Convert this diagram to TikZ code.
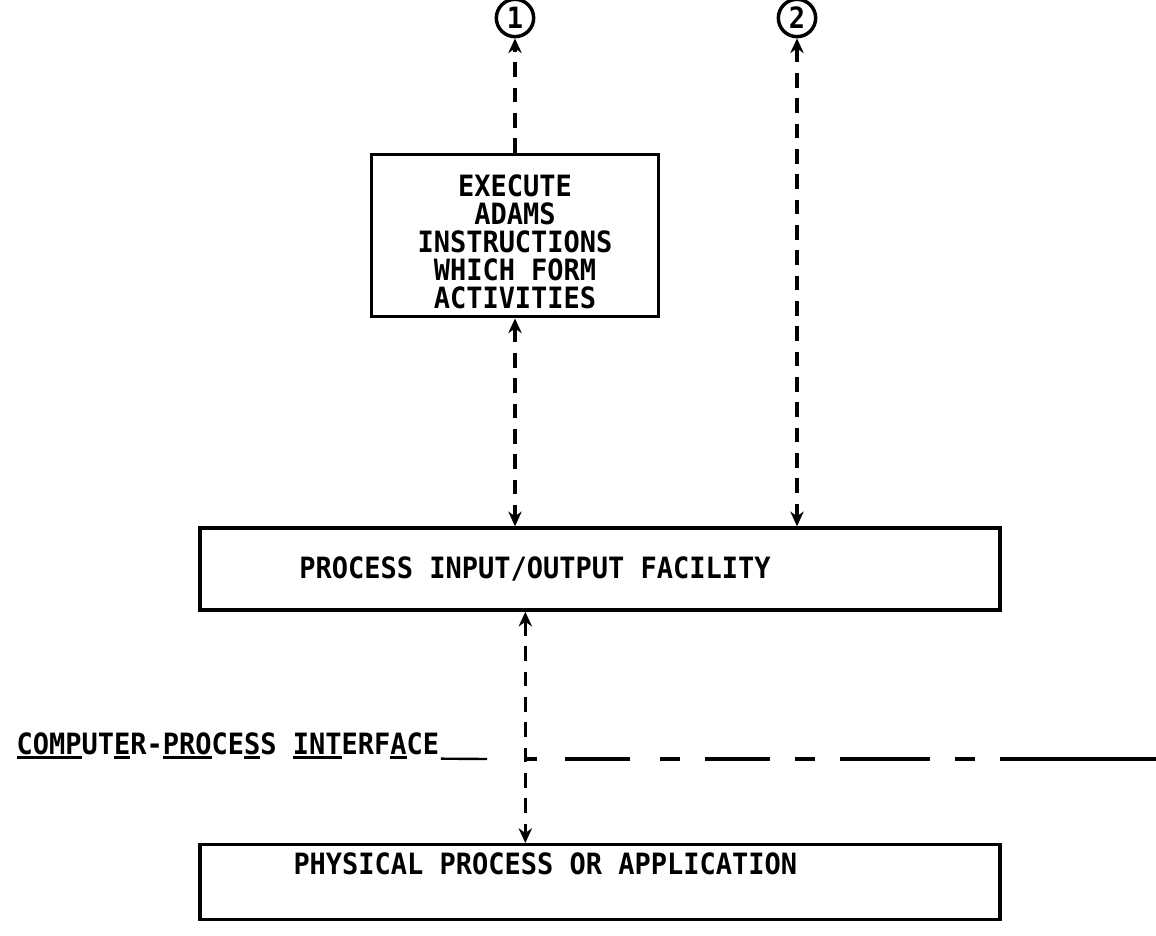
\documentclass[tikz,border=0pt]{standalone}
\usepackage{fontspec}
\setmainfont{DejaVu Sans Mono}[FakeStretch=0.92]
\usetikzlibrary{arrows.meta,positioning}
\newcommand\ulseg[1]{\setbox0\hbox{#1}\rlap{\rule[-3.5pt]{\wd0}{1.8pt}}#1}

\begin{document}
\begin{tikzpicture}[x=0.75pt,y=-0.75pt,>={Stealth[length=11pt,width=10pt,inset=3.5pt]},line width=2.6pt,
 every node/.style={font=\bfseries\fontsize{22}{21}\selectfont},
 box/.style={draw,rectangle,inner sep=0pt,align=center},
 wide/.style={draw,rectangle,inner sep=0pt,minimum width=600pt},
 link/.style={circle,draw,minimum size=28pt,inner sep=0pt,line width=2.6pt},
 flow/.style={dash pattern=on 11pt off 8pt,line width=2.5pt}]
 \useasboundingbox (0,0) rectangle (1156,935);
 \node[link] (c1) at (515,18) {1};
 \node[link] (c2) at (797,18) {2};
 \node[box,minimum width=215pt,text height=115.5pt,text depth=6pt,anchor=north] (exec) at (515,153)
 {EXECUTE\\ADAMS\\INSTRUCTIONS\\WHICH FORM\\ACTIVITIES};
 \node[wide,minimum height=61.5pt] (pio) at (600,569)
 {PROCESS INPUT/OUTPUT FACILITY\hspace*{97.5pt}};
 \node[wide,text height=22.5pt,text depth=33.75pt,anchor=north] (phys) at (600,843)
 {PHYSICAL PROCESS OR APPLICATION\hspace*{82pt}};
 % connectors
 \draw[flow,->] (exec.north) -- (c1.south);
 \draw[flow,<->] (exec.south) -- (exec.south |- pio.north);
 \draw[flow,<->] (c2.south) -- (c2.south |- pio.north);
 \draw[flow,<->] ([xshift=-56pt]pio.south) -- ([xshift=-56pt]phys.north);
 % interface line
 \node[anchor=base west,inner sep=0pt] (iface) at (15,754)
 {\ulseg{COMP}UT\ulseg{E}R-\ulseg{PRO}CE\ulseg{S}S \ulseg{INT}ERF\ulseg{A}CE};
 \coordinate (ifend) at (487,759);
 \draw[line width=1.8pt] ([yshift=-3.5pt]iface.base east) -- (ifend);
 \foreach \a/\b in {525/537,565/630,660/680,705/770,795/815,840/930,955/975,1000/1156}
 \draw[line width=2.4pt] (\a,759) -- (\b,759);
\end{tikzpicture}
\end{document}
